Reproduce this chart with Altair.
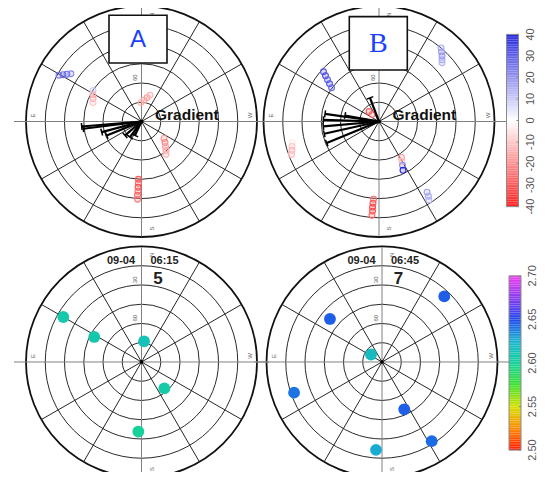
import altair as alt
import numpy as np
import pandas as pd

# ------------------------------------------------------------------ data
ring_elev = [0, 15, 30, 45, 60, 75]
spoke_az = [0, 30, 60, 90, 120, 150, 180, 210, 240, 270, 300, 330]
cardinal_text = ["N", "W", "S", "E"]
elev_label_values = [30, 60]

# Panel A : slant gradient along satellite tracks (az deg, elev deg, value)
a_az = [60.6, 59.1, 57.5, 55.8,
        57.4, 60.9, 64.6, 68.6,
        1.5, 353.4, 347.1, 342.2,
        233.0, 228.2, 223.8, 220.2, 216.6,
        177.0, 177.2, 177.0, 177.1, 176.9, 177.1]
a_el = [16.2, 18.7, 21.1, 23.5,
        45.1, 46.7, 48.2, 49.4,
        75.2, 73.2, 70.8, 68.3,
        68.0, 65.4, 63.0, 60.4, 58.0,
        44.7, 41.6, 38.5, 35.4, 32.3, 29.1]
a_val = [24, 27, 27, 22,
         10, -14, -16, -10,
         -14, -16, -18, -14,
         -20, -22, -18, -16, -14,
         -30, -28, -32, -26, -28, -24]

# Panel B
b_az = [320.0, 318.2, 316.3, 314.5, 313.1,
        48.0, 49.3, 50.8, 52.5, 54.4,
        45.0, 45.0,
        103.6, 106.0, 108.4, 110.7,
        212.0, 209.9, 208.1, 206.1,
        214.1, 213.4, 212.3,
        176.0, 175.8, 175.7, 175.9, 175.7]
b_el = [14.8, 16.9, 18.9, 21.1, 22.7,
        31.8, 35.0, 38.2, 41.4, 44.5,
        79.0, 82.3,
        20.6, 19.5, 18.5, 17.1,
        56.9, 54.1, 51.1, 47.5,
        23.2, 20.0, 17.2,
        29.1, 25.9, 22.8, 19.7, 16.5]
b_val = [16, 18, 20, 17, 14,
         32, 34, 30, 32, 28,
         -30, -26,
         -4, -10, -14, -12,
         -18, -12, 22, 40,
         18, 16, 14,
         -26, -30, -34, -32, -28]

# gradient vectors (direction deg, magnitude)
vec_a_dir = [94.8, 97.1, 105.0, 111.9, 130.3, 143.8, 155.0]
vec_a_len = [60.0, 58.7, 41.2, 37.5, 21.6, 19.5, 15.4]
vec_b_dir = [81.9, 88.3, 95.1, 102.7, 112.5, 20.8, 80.0]
vec_b_len = [54.5, 55.7, 55.9, 56.1, 56.6, 25.4, 34.5]

# Panels C/D : satellites (az, elev, value)
c_az = [60.0, 62.0, 353.0, 220.7, 177.4]
c_el = [19.6, 48.3, 73.7, 62.7, 35.5]
c_val = [2.608, 2.608, 2.614, 2.606, 2.600]
d_az = [316.6, 50.3, 55.7, 109.3, 205.1, 212.0, 176.1]
d_el = [19.4, 37.3, 79.6, 17.4, 49.1, 16.9, 21.1]
d_val = [2.645, 2.645, 2.618, 2.640, 2.645, 2.642, 2.627]

date_text = ["09-04", "09-04"]
time_text = ["06:15", "06:45"]
epoch_text = ["5", "7"]
panel_letters = ["A", "B"]

grad_ticks = [40, 30, 20, 10, 0, -10, -20, -30, -40]
rain_ticks = [2.70, 2.65, 2.60, 2.55, 2.50]

# ------------------------------------------------------------------ layout
CENTERS = {"A": (141.5, 121.0), "B": (379.0, 121.0),
           "C": (141.5, 362.5), "D": (382.0, 362.5)}
R = 115.5
FONT = "Liberation Sans"
W, H = 532, 464

XS = alt.Scale(domain=[8, 8 + W], nice=False, zero=False)
YS = alt.Scale(domain=[7, 473], nice=False, zero=False, reverse=True)

DIV = alt.Scale(domain=[-40, 0, 40], range=["#ff2020", "#ffffff", "#2a2ae0"],
                interpolate="rgb")
RAIN = alt.Scale(domain=[2.50, 2.525, 2.55, 2.575, 2.60, 2.625, 2.65, 2.675, 2.70],
                 range=["#ff1a00", "#ff8a00", "#d6e000", "#3ee030", "#14d29a",
                        "#18b4d0", "#2048ee", "#8a3cf0", "#f03cf0"],
                 interpolate="rgb")


def with_center(df):
    df = df.copy()
    df["cx"] = df["panel"].map(lambda p: CENTERS[p][0])
    df["cy"] = df["panel"].map(lambda p: CENTERS[p][1])
    return df


def enc(xf, yf, x2f=None, y2f=None):
    e = dict(x=alt.X(f"{xf}:Q", scale=XS, axis=None),
             y=alt.Y(f"{yf}:Q", scale=YS, axis=None))
    if x2f is not None:
        e["x2"] = alt.X2(f"{x2f}:Q")
        e["y2"] = alt.Y2(f"{y2f}:Q")
    return e


RAD = f"(90 - datum.el) / 90 * {R}"
PX = f"datum.cx - ({RAD}) * sin(datum.az * PI / 180)"
PY = f"datum.cy - ({RAD}) * cos(datum.az * PI / 180)"

layers = []

# rings
rings = with_center(pd.DataFrame([(p, e) for p in CENTERS for e in ring_elev],
                                 columns=["panel", "el"]))
ring_base = alt.Chart(rings).transform_calculate(
    s=f"pow(2 * ({RAD}), 2)")
layers.append(ring_base.transform_filter("datum.el > 0").mark_point(
    shape="circle", filled=False, color="#2a2a2a", strokeWidth=1.0, opacity=1
).encode(**enc("cx", "cy"), size=alt.Size("s:Q", scale=None)))
layers.append(ring_base.transform_filter("datum.el == 0").mark_point(
    shape="circle", filled=False, color="#111111", strokeWidth=1.8, opacity=1
).encode(**enc("cx", "cy"), size=alt.Size("s:Q", scale=None)))

# spokes
spokes = with_center(pd.DataFrame([(p, a) for p in CENTERS for a in spoke_az],
                                  columns=["panel", "az"]))
spoke_base = alt.Chart(spokes).transform_calculate(
    card="datum.az % 90 == 0",
    ln=f"(datum.az == 90 || datum.az == 270) ? {R} + 12 : {R}",
).transform_calculate(
    x2="datum.cx - datum.ln * sin(datum.az * PI / 180)",
    y2="datum.cy - datum.ln * cos(datum.az * PI / 180)",
)
layers.append(spoke_base.transform_filter("!datum.card").mark_rule(
    color="#262626", strokeWidth=1.0).encode(**enc("cx", "cy", "x2", "y2")))
layers.append(spoke_base.transform_filter("datum.card").mark_rule(
    color="#808080", strokeWidth=1.0).encode(**enc("cx", "cy", "x2", "y2")))

# cardinal labels
card_rows = []
card_off = {"N": (10, -R + 8), "W": (R - 7, -6), "S": (10, R - 8), "E": (-R + 7, -6)}
for p in CENTERS:
    for t in cardinal_text:
        card_rows.append((p, t, card_off[t][0], card_off[t][1]))
card = with_center(pd.DataFrame(card_rows, columns=["panel", "t", "dx", "dy"]))
layers.append(alt.Chart(card).transform_calculate(
    x="datum.cx + datum.dx", y="datum.cy + datum.dy").mark_text(
    font=FONT, fontSize=6, color="#666666", angle=270).encode(
    **enc("x", "y"), text="t:N"))

# elevation labels
el_rows = [(p, v) for p in CENTERS for v in elev_label_values]
ell = with_center(pd.DataFrame(el_rows, columns=["panel", "el"]))
layers.append(alt.Chart(ell).transform_calculate(
    x="datum.cx - 6.5", y=f"datum.cy - ({RAD}) - 5.5",
    t="format(datum.el, 'd')").mark_text(
    font=FONT, fontSize=6, color="#555555", angle=270).encode(
    **enc("x", "y"), text="t:N"))

# tracks
trk = pd.concat([
    pd.DataFrame({"panel": "A", "az": a_az, "el": a_el, "val": a_val}),
    pd.DataFrame({"panel": "B", "az": b_az, "el": b_el, "val": b_val}),
])
trk = with_center(trk)
layers.append(alt.Chart(trk).transform_calculate(x=PX, y=PY).mark_point(
    shape="circle", filled=True, size=34, strokeWidth=1.1, fillOpacity=0.2, opacity=1
).encode(**enc("x", "y"),
         fill=alt.Fill("val:Q", scale=DIV, legend=None),
         stroke=alt.Stroke("val:Q", scale=DIV, legend=None)))

# gradient vectors
vec = pd.concat([
    pd.DataFrame({"panel": "A", "dir": vec_a_dir, "len": vec_a_len}),
    pd.DataFrame({"panel": "B", "dir": vec_b_dir, "len": vec_b_len}),
])
vec = with_center(vec)
vec_base = alt.Chart(vec).transform_calculate(
    ex="datum.cx - datum.len * sin(datum.dir * PI / 180)",
    ey="datum.cy - datum.len * cos(datum.dir * PI / 180)",
).transform_calculate(
    t1x="datum.ex - 3.5 * cos(datum.dir * PI / 180)",
    t1y="datum.ey + 3.5 * sin(datum.dir * PI / 180)",
    t2x="datum.ex + 3.5 * cos(datum.dir * PI / 180)",
    t2y="datum.ey - 3.5 * sin(datum.dir * PI / 180)",
)
layers.append(vec_base.mark_rule(color="#000000", strokeWidth=2.2).encode(
    **enc("cx", "cy", "ex", "ey")))
layers.append(vec_base.mark_rule(color="#000000", strokeWidth=1.5).encode(
    **enc("t1x", "t1y", "t2x", "t2y")))

# satellites bottom panels
sats = pd.concat([
    pd.DataFrame({"panel": "C", "az": c_az, "el": c_el, "val": c_val}),
    pd.DataFrame({"panel": "D", "az": d_az, "el": d_el, "val": d_val}),
])
sats = with_center(sats)
layers.append(alt.Chart(sats).transform_calculate(x=PX, y=PY).mark_circle(
    size=140, opacity=1).encode(
    **enc("x", "y"), color=alt.Color("val:Q", scale=RAIN, legend=None)))

# centre dots
cen = with_center(pd.DataFrame({"panel": list(CENTERS)}))
layers.append(alt.Chart(cen).mark_circle(size=14, color="#000000", opacity=1).encode(
    **enc("cx", "cy")))

# "Gradient" labels
grad_lbl = with_center(pd.DataFrame({"panel": ["A", "B"], "t": ["Gradient", "Gradient"]}))
layers.append(alt.Chart(grad_lbl).transform_calculate(
    x="datum.cx + 13.5", y="datum.cy - 1.5").mark_text(
    font=FONT, fontSize=15.5, fontWeight="bold", color="#111111",
    align="left", baseline="alphabetic").encode(**enc("x", "y"), text="t:N"))

# date / time / epoch labels
info_rows = []
for i, p in enumerate(["C", "D"]):
    info_rows.append((p, date_text[i], -20.5, -98.5))
    info_rows.append((p, time_text[i], 23.0, -98.5))
info = with_center(pd.DataFrame(info_rows, columns=["panel", "t", "dx", "dy"]))
layers.append(alt.Chart(info).transform_calculate(
    x="datum.cx + datum.dx", y="datum.cy + datum.dy").mark_text(
    font=FONT, fontSize=11, fontWeight="bold", color="#222222",
    align="center", baseline="alphabetic").encode(**enc("x", "y"), text="t:N"))
ep = with_center(pd.DataFrame({"panel": ["C", "D"], "t": epoch_text}))
layers.append(alt.Chart(ep).transform_calculate(
    x="datum.cx + 16.5", y="datum.cy - 78").mark_text(
    font=FONT, fontSize=17, fontWeight="bold", color="#222222",
    align="center", baseline="alphabetic").encode(**enc("x", "y"), text="t:N"))

# panel letter boxes
boxes = pd.DataFrame({
    "t": panel_letters,
    "x0": [109.0, 349.3], "x1": [167.0, 407.3],
    "y0": [14.3, 15.7], "y1": [62.3, 69.3],
})
layers.append(alt.Chart(boxes).mark_rect(
    fill="#ffffff", stroke="#111111", strokeWidth=1.6).encode(
    **enc("x0", "y0", "x1", "y1")))
box_txt = alt.Chart(boxes).transform_calculate(
    x="(datum.x0 + datum.x1) / 2", y="(datum.y0 + datum.y1) / 2 + 1")
layers.append(box_txt.transform_filter("datum.t == 'A'").mark_text(
    font=FONT, fontSize=24, color="#2040ff", baseline="middle", align="center"
).encode(**enc("x", "y"), text="t:N"))
layers.append(box_txt.transform_filter("datum.t == 'B'").mark_text(
    font="Liberation Serif", fontSize=28, color="#2040ff", baseline="middle",
    align="center").encode(**enc("x", "y"), text="t:N"))

# colour bars
CB1 = dict(x0=506.5, x1=518.5, ytop=33.5, ybot=206.5, vmin=-40.0, vmax=40.0)
CB2 = dict(x0=509.0, x1=521.0, ytop=276.0, ybot=451.0, vmin=2.50, vmax=2.70)


def bar_layers(cb, scale, ticks, fmt):
    n = 100
    v = np.linspace(cb["vmin"], cb["vmax"], n + 1)
    df = pd.DataFrame({"v0": v[:-1], "v1": v[1:]})
    df["vm"] = (df.v0 + df.v1) / 2
    span = cb["vmax"] - cb["vmin"]
    h = cb["ybot"] - cb["ytop"]
    ypos = lambda f: f"{cb['ybot']} - (datum.{f} - {cb['vmin']}) / {span} * {h}"
    df["x0"] = cb["x0"]
    df["x1"] = cb["x1"]
    out = [alt.Chart(df).transform_calculate(ya=ypos("v0"), yb=ypos("v1")).mark_rect(
        strokeWidth=0).encode(**enc("x0", "ya", "x1", "yb"),
                              color=alt.Color("vm:Q", scale=scale, legend=None))]
    frame = pd.DataFrame({"x0": [cb["x0"]], "x1": [cb["x1"]],
                          "y0": [cb["ytop"]], "y1": [cb["ybot"]]})
    out.append(alt.Chart(frame).mark_rect(fill=None, stroke="#8a8a8a", strokeWidth=1).encode(
        **enc("x0", "y0", "x1", "y1")))
    tk = pd.DataFrame({"v": ticks})
    tk["x"] = cb["x1"] + 12
    tk["xa"] = cb["x1"] - 2
    tk["xb"] = cb["x1"]
    tk["t"] = [fmt(t) for t in ticks]
    out.append(alt.Chart(tk).transform_calculate(y=ypos("v")).mark_text(
        font=FONT, fontSize=11, color="#555555", angle=270, align="center",
        baseline="middle").encode(**enc("x", "y"), text="t:N"))
    out.append(alt.Chart(tk).transform_calculate(y=ypos("v")).mark_rule(
        color="#888888", strokeWidth=1).encode(
        x=alt.X("xa:Q", scale=XS, axis=None), x2="xb:Q",
        y=alt.Y("y:Q", scale=YS, axis=None)))
    return out


layers += bar_layers(CB1, DIV, grad_ticks, lambda t: f"{t:d}")
layers += bar_layers(CB2, RAIN, rain_ticks, lambda t: f"{t:.2f}")

chart = alt.layer(*layers).resolve_scale(
    color="independent", fill="independent", stroke="independent"
).properties(
    width=W, height=H, padding=0, autosize=alt.AutoSizeParams(type="none"),
    background="#ffffff",
).configure_view(stroke=None)

chart.save("out.html", embed_options={"renderer": "svg", "actions": False})
